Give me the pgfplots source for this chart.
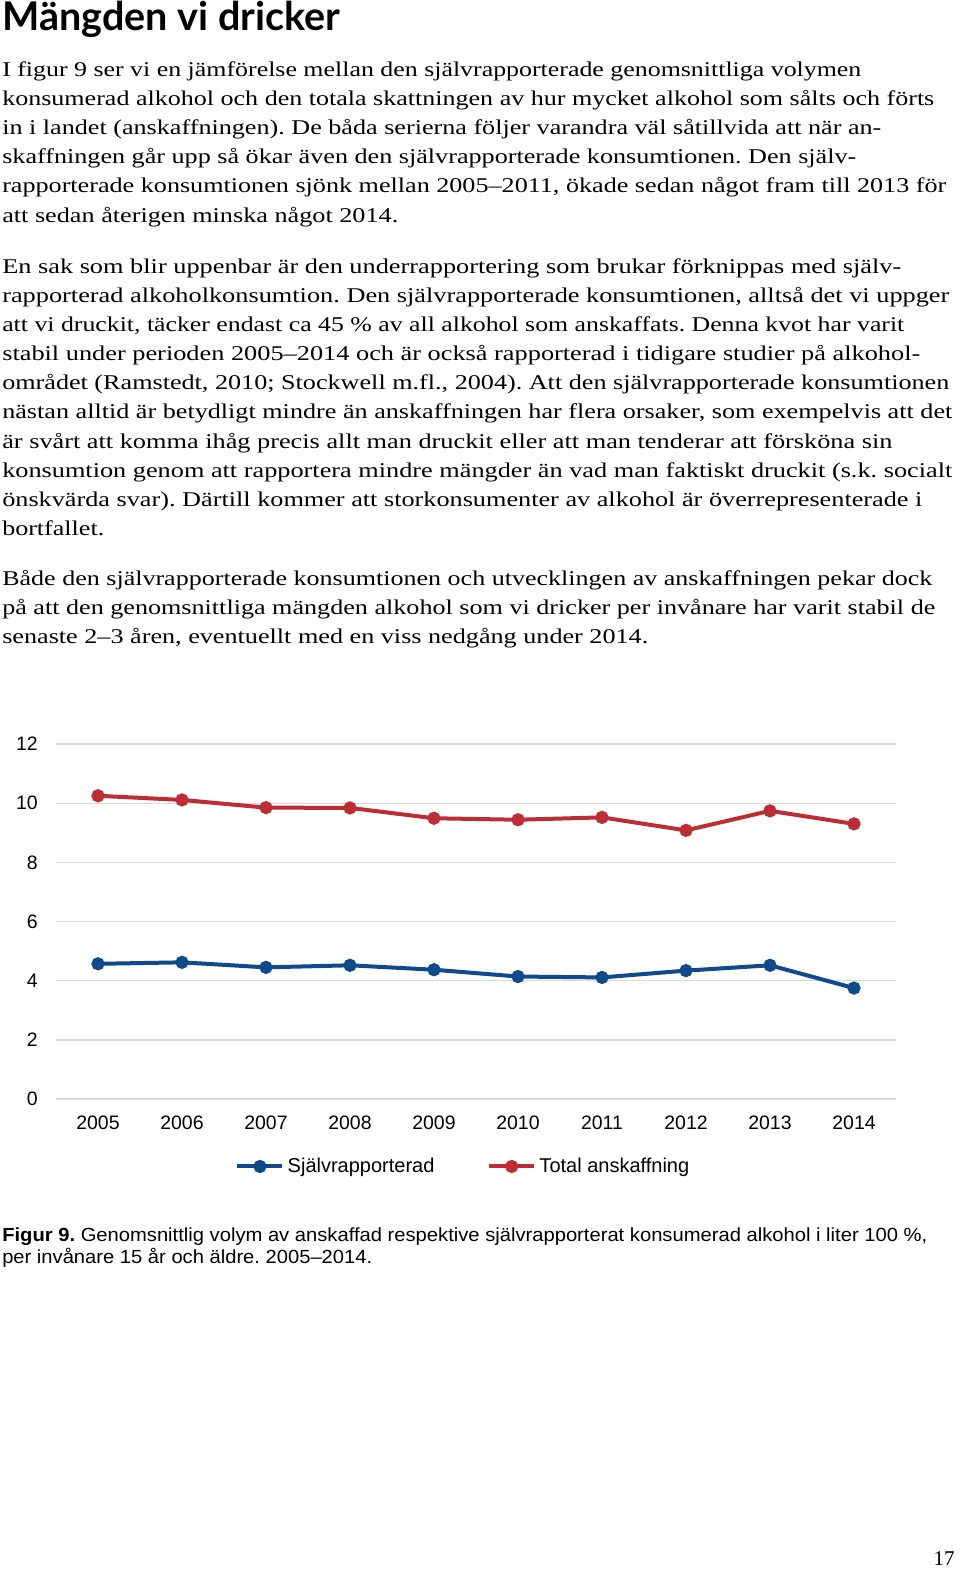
\documentclass[border=0pt]{standalone}
\usepackage{pgfplots}
\pgfplotsset{compat=1.18}
\usepackage{fontspec}
\setmainfont{Liberation Serif}
\setsansfont{Liberation Sans}
\newfontfamily\titlefont{Lato}
\definecolor{myblue}{RGB}{14,74,140}
\definecolor{myred}{RGB}{190,44,52}
\definecolor{gridgray}{RGB}{217,217,217}
\newdimen\px \px=0.75pt
\frenchspacing
\newcommand\bodysize{\fontsize{15.75}{18}\selectfont}
\newcommand\chartsize{\fontsize{14.6}{16}\selectfont\sffamily}
\newcommand\bl[3]{\node[anchor=base west,inner sep=0pt] at (2,#1) {\resizebox{#2\px}{\height}{\bodysize #3}};}
\begin{document}
\begin{tikzpicture}[x=0.75pt,y=-0.75pt]
\fill[white] (0,0) rectangle (960,1574);
\node[anchor=base west,inner sep=0pt] at (2,31) {\resizebox{338\px}{!}{\titlefont\bfseries Mängden vi dricker}};
% paragraph 1
\bl{76.3}{859}{I figur 9 ser vi en jämförelse mellan den självrapporterade genomsnittliga volymen}
\bl{105.5}{932}{konsumerad alkohol och den totala skattningen av hur mycket alkohol som sålts och förts}
\bl{134.6}{879}{in i landet (anskaffningen). De båda serierna följer varandra väl såtillvida att när an-}
\bl{163.8}{854}{skaffningen går upp så ökar även den självrapporterade konsumtionen. Den själv-}
\bl{192.9}{944}{rapporterade konsumtionen sjönk mellan 2005–2011, ökade sedan något fram till 2013 för}
\bl{222.0}{396}{att sedan återigen minska något 2014.}
% paragraph 2
\bl{273.1}{899}{En sak som blir uppenbar är den underrapportering som brukar förknippas med själv-}
\bl{302.3}{947}{rapporterad alkoholkonsumtion. Den självrapporterade konsumtionen, alltså det vi uppger}
\bl{331.4}{902}{att vi druckit, täcker endast ca 45 \% av all alkohol som anskaffats. Denna kvot har varit}
\bl{360.6}{918}{stabil under perioden 2005–2014 och är också rapporterad i tidigare studier på alkohol-}
\bl{389.7}{947}{området (Ramstedt, 2010; Stockwell m.fl., 2004). Att den självrapporterade konsumtionen}
\bl{418.9}{950}{nästan alltid är betydligt mindre än anskaffningen har flera orsaker, som exempelvis att det}
\bl{448.0}{890}{är svårt att komma ihåg precis allt man druckit eller att man tenderar att försköna sin}
\bl{477.2}{950}{konsumtion genom att rapportera mindre mängder än vad man faktiskt druckit (s.k. socialt}
\bl{506.3}{920}{önskvärda svar). Därtill kommer att storkonsumenter av alkohol är överrepresenterade i}
\bl{535.5}{102}{bortfallet.}
% paragraph 3
\bl{585.3}{930}{Både den självrapporterade konsumtionen och utvecklingen av anskaffningen pekar dock}
\bl{614.4}{933}{på att den genomsnittliga mängden alkohol som vi dricker per invånare har varit stabil de}
\bl{643.6}{646}{senaste 2–3 åren, eventuellt med en viss nedgång under 2014.}

\begin{axis}[
  at={(42pt,-824.25pt)}, anchor=south west,
  scale only axis, width=630pt, height=266.25pt,
  xmin=2004.5, xmax=2014.5, ymin=0, ymax=12,
  xtick={2005,2006,...,2014}, ytick={0,2,...,12},
  axis line style={draw=none}, major tick length=0pt,
  ymajorgrids, grid style={color=gridgray, line width=1pt},
  /pgf/number format/assume math mode=true,
  xticklabel style={/pgf/number format/1000 sep={}, yshift=-12.5pt},
  yticklabel style={xshift=-13.5pt},
  ticklabel style={font=\chartsize, inner sep=0pt},
  legend style={at={(0.4857,-0.19)}, anchor=center, draw=none, fill=none,
    font=\fontsize{15}{17}\selectfont\sffamily, legend columns=2,
    nodes={inner xsep=2.5pt, inner ysep=1pt},
    /tikz/every even column/.append style={column sep=37pt}},
  legend image code/.code={\draw[mark repeat=2,mark phase=2,#1] plot coordinates {(0pt,0pt) (16.9pt,0pt) (33.75pt,0pt)};},
  clip=false,
]
\addplot[color=myblue, line width=3pt, mark=*, mark size=3.4pt, mark options={solid}]
  coordinates {(2005,4.57) (2006,4.62) (2007,4.45) (2008,4.52) (2009,4.37) (2010,4.14) (2011,4.11) (2012,4.34) (2013,4.52) (2014,3.75)};
\addlegendentry{Självrapporterad}
\addplot[color=myred, line width=3pt, mark=*, mark size=3.4pt, mark options={solid}]
  coordinates {(2005,10.25) (2006,10.11) (2007,9.85) (2008,9.84) (2009,9.49) (2010,9.44) (2011,9.52) (2012,9.08) (2013,9.74) (2014,9.30)};
\addlegendentry{Total anskaffning}
\end{axis}

\node[anchor=base west,inner sep=0pt] at (2,1241) {\resizebox{925\px}{\height}{\fontsize{14.25}{16}\selectfont\sffamily\textbf{Figur 9.} Genomsnittlig volym av anskaffad respektive självrapporterat konsumerad alkohol i liter 100 \%,}};
\node[anchor=base west,inner sep=0pt] at (2,1263) {\resizebox{370\px}{\height}{\fontsize{14.25}{16}\selectfont\sffamily per invånare 15 år och äldre. 2005–2014.}};
\node[anchor=base east,inner sep=0pt] at (955,1565) {\bodysize 17};
\end{tikzpicture}
\end{document}
